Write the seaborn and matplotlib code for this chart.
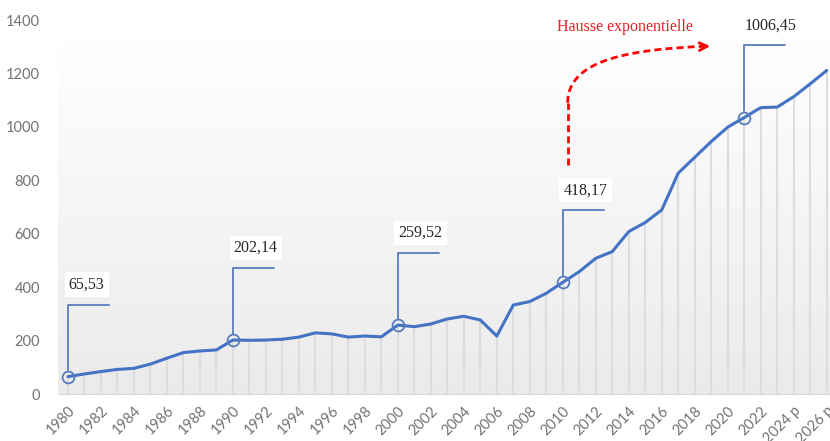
import numpy as np
import pandas as pd
import matplotlib
matplotlib.use("Agg")
import matplotlib.pyplot as plt
import seaborn as sns

sns.set_style("white")
plt.rcParams['font.family'] = ['Lato', 'DejaVu Sans']

# data
years = list(range(1980, 2027))
values = [65, 75, 84, 92, 96, 112, 134, 155, 161, 165,
          202, 201, 202, 205, 213, 229, 225, 213, 217, 214,
          258, 252, 262, 281, 291, 277, 217, 333, 346, 377,
          418, 458, 508, 533, 608, 642, 689, 827, 886, 945,
          999, 1035, 1072, 1074, 1113, 1161, 1211]

tick_years = years[::2]
tick_labels = ["1980", "1982", "1984", "1986", "1988", "1990", "1992", "1994",
               "1996", "1998", "2000", "2002", "2004", "2006", "2008", "2010",
               "2012", "2014", "2016", "2018", "2020", "2022", "2024 p", "2026 p"]

callout_years = [1980, 1990, 2000, 2010, 2021]
callout_text = ["65,53", "202,14", "259,52", "418,17", "1006,45"]

df = pd.DataFrame({"annee": years, "valeur": values})

fig = plt.figure(figsize=(8.3, 4.41), dpi=100)
ax = fig.add_axes([58 / 830, 47 / 441, 772 / 830, 374 / 441])

x0, x1 = 1979.4, 2026.2

# gradient background
grad = np.linspace(0.92, 1.0, 256).reshape(-1, 1)
ax.imshow(np.dstack([grad] * 3), extent=[x0, x1, 0, 1350], origin='lower',
          aspect='auto', zorder=0)

# drop lines
ax.vlines(df.annee, 0, df.valeur, color='#dddddd', lw=1.5, zorder=1)

sns.lineplot(data=df, x="annee", y="valeur", color='#4472C4', lw=2.2, ax=ax, zorder=3)

# callouts
lead_col = '#5a7bbd'
for yr, txt in zip(callout_years, callout_text):
    v = values[years.index(yr)]
    top = v + 270
    ax.plot([yr, yr, yr + 2.5], [v + 24, top, top], color=lead_col, lw=1.3, zorder=4)
    ax.plot(yr, v, 'o', mfc='none', mec=lead_col, ms=8.5, mew=1.3, zorder=5)
    ax.text(yr + 0.05, top + 75, txt, family='Liberation Serif', fontsize=11.5,
            va='center', ha='left', zorder=6,
            bbox=dict(fc='white', ec='none', pad=3))

# red dashed arrow
ax.plot([2010.3, 2010.3], [858, 1090], color='red', lw=2, ls=(0, (2.5, 1.5)), zorder=6)
t = np.linspace(0, 1, 80)
px = [2010.3, 2010.3, 2013.5, 2018.8]
py = [1090, 1240, 1290, 1302]
bx = (1 - t) ** 3 * px[0] + 3 * (1 - t) ** 2 * t * px[1] + 3 * (1 - t) * t ** 2 * px[2] + t ** 3 * px[3]
by = (1 - t) ** 3 * py[0] + 3 * (1 - t) ** 2 * t * py[1] + 3 * (1 - t) * t ** 2 * py[2] + t ** 3 * py[3]
ax.plot(bx, by, color='red', lw=2, ls=(0, (2.5, 1.5)), zorder=6)
ax.annotate('', xy=(2019.1, 1303), xytext=(2018.5, 1301),
            arrowprops=dict(arrowstyle='->', color='red', lw=2, mutation_scale=14), zorder=6)
ax.text(2009.65, 1374, "Hausse exponentielle", color='#ee1c24',
        family='Liberation Serif', fontsize=11.5, va='center', ha='left')

ax.set_xlim(x0, x1)
ax.set_ylim(0, 1400)
ax.set_yticks(range(0, 1401, 200))
ax.set_xticks(tick_years)
ax.set_xticklabels(tick_labels, rotation=45, ha='right', rotation_mode='anchor')
ax.tick_params(axis='both', length=0, labelcolor='#737373', labelsize=10.5)
ax.tick_params(axis='y', pad=13)
ax.tick_params(axis='x', pad=7)
ax.set_xlabel("")
ax.set_ylabel("")
for s in ['left', 'right', 'top']:
    ax.spines[s].set_visible(False)
ax.spines['bottom'].set_color('#d9d9d9')

fig.savefig("out.png", dpi=100)
